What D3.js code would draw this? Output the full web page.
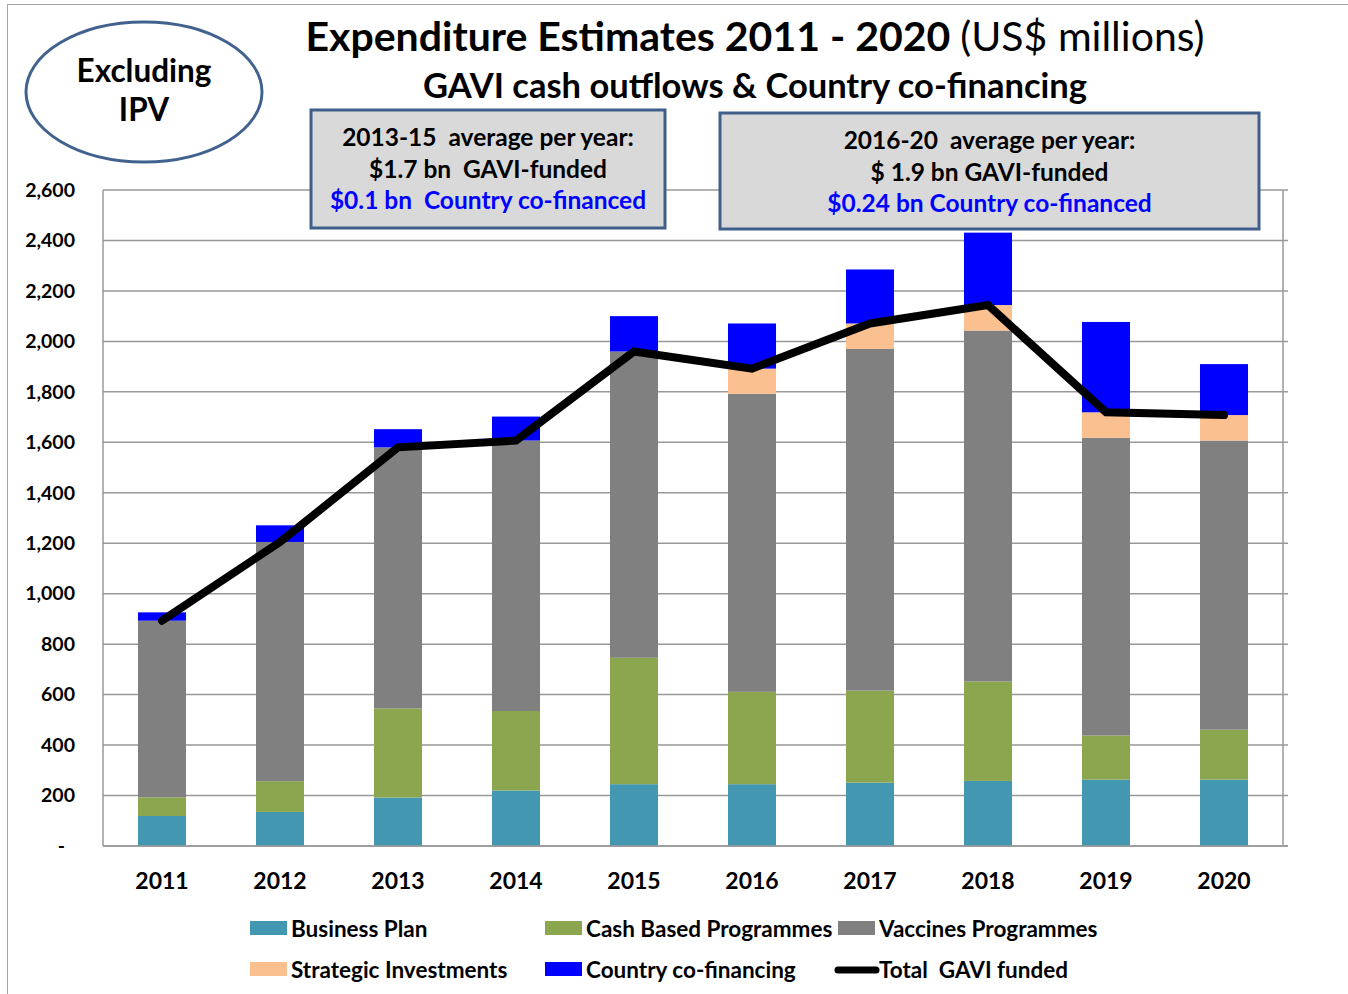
<!DOCTYPE html>
<html><head><meta charset="utf-8">
<script src="https://cdn.jsdelivr.net/npm/d3@7"></script>
<style>
html,body{margin:0;padding:0;background:#fff;}
svg{display:block;font-family:Lato,"Open Sans",sans-serif;}
</style></head>
<body>
<svg id="chart" width="1348" height="994"></svg>
<script>
const years = ["2011","2012","2013","2014","2015","2016","2017","2018","2019","2020"];
const businessPlan = [119,135,192,220,245,245,251,258,263,263];
const cashBased    = [74,122,353,315,501,366,365,394,175,198];
const vaccines     = [700,948,1035,1072,1214,1181,1354,1391,1180,1146];
const strategic    = [0,0,0,0,0,100,101,101,101,101];
const coFinancing  = [33,66,72,95,140,179,214,287,358,202];
const totalGavi    = [893,1205,1580,1607,1960,1892,2071,2144,1719,1708];
const yTicks = [0,200,400,600,800,1000,1200,1400,1600,1800,2000,2200,2400,2600];
const seriesNames = ["Business Plan","Cash Based Programmes","Vaccines Programmes","Strategic Investments","Country co-financing"];
const seriesColors = ["#4397B0","#8BA64E","#808080","#FAC090","#0000FF"];

const svg = d3.select("#chart");
const m = {left:103, right:1283, top:190, bottom:846};

// outer frame
svg.append("rect").attr("x",7.5).attr("y",4.5).attr("width",1360).attr("height",1000)
  .attr("fill","none").attr("stroke","#a6a6a6").attr("stroke-width",1);

const x = d3.scaleBand().domain(years).range([m.left,m.right]).paddingInner(0.593).paddingOuter(0.2965);
const y = d3.scaleLinear().domain([0,2600]).range([m.bottom,m.top]);

// gridlines
svg.append("g").selectAll("line").data(yTicks).join("line")
  .attr("x1",m.left).attr("x2",m.right+5)
  .attr("y1",d=>y(d)).attr("y2",d=>y(d))
  .attr("stroke","#999").attr("stroke-width",1.5);

// y axis labels
const yAxis = d3.axisLeft(y).tickValues(yTicks).tickSize(0).tickPadding(28)
  .tickFormat(d=> d===0 ? "-" : d3.format(",")(d));
const ga = svg.append("g").attr("transform",`translate(${m.left},0)`).call(yAxis);
ga.select(".domain").remove();
ga.selectAll("text").attr("font-size",19.5).attr("font-weight","bold").attr("fill","#000")
  .attr("font-family","Lato,sans-serif")
  .attr("dx", d=> d===0 ? -10 : 0);

// stacked bars
const rows = years.map((yr,i)=>({year:yr, s0:businessPlan[i], s1:cashBased[i], s2:vaccines[i], s3:strategic[i], s4:coFinancing[i]}));
const stack = d3.stack().keys(["s0","s1","s2","s3","s4"])(rows);
svg.append("g").selectAll("g").data(stack).join("g")
  .attr("fill",(d,i)=>seriesColors[i])
  .selectAll("rect").data(d=>d).join("rect")
  .attr("x",d=>x(d.data.year)).attr("width",x.bandwidth())
  .attr("y",d=>y(d[1])).attr("height",d=>Math.max(0,y(d[0])-y(d[1])));

// axes lines
svg.append("line").attr("x1",m.left).attr("x2",m.left).attr("y1",m.top).attr("y2",m.bottom)
  .attr("stroke","#999").attr("stroke-width",1.5);
svg.append("line").attr("x1",m.right).attr("x2",m.right).attr("y1",m.top).attr("y2",m.bottom)
  .attr("stroke","#999").attr("stroke-width",1.5);
svg.append("line").attr("x1",m.left).attr("x2",m.right+5).attr("y1",m.bottom).attr("y2",m.bottom)
  .attr("stroke","#999").attr("stroke-width",1.5);

// x axis labels
const xAxis = d3.axisBottom(x).tickSize(0).tickPadding(27);
const gx = svg.append("g").attr("transform",`translate(0,${m.bottom})`).call(xAxis);
gx.select(".domain").remove();
gx.selectAll("text").attr("font-size",23).attr("font-weight","bold").attr("fill","#000")
  .attr("font-family","Lato,sans-serif");

// total line
const line = d3.line().x((d,i)=>x(years[i])+x.bandwidth()/2).y(d=>y(d));
svg.append("path").datum(totalGavi).attr("d",line).attr("fill","none")
  .attr("stroke","#000").attr("stroke-width",8).attr("stroke-linecap","round").attr("stroke-linejoin","miter");

// title
const t1 = svg.append("text").attr("x",755).attr("y",51).attr("text-anchor","middle")
  .attr("font-size",41).attr("fill","#000");
t1.append("tspan").attr("font-weight","bold").text("Expenditure Estimates 2011 - 2020 ");
t1.append("tspan").attr("font-weight","normal").text("(US$ millions)");
svg.append("text").attr("x",755).attr("y",98).attr("text-anchor","middle")
  .attr("font-size",34.5).attr("font-weight","bold").attr("fill","#000")
  .text("GAVI cash outflows & Country co-financing");

// ellipse
svg.append("ellipse").attr("cx",144).attr("cy",92).attr("rx",118).attr("ry",70)
  .attr("fill","#fff").attr("stroke","#41628F").attr("stroke-width",3);
svg.append("text").attr("x",144).attr("y",82).attr("text-anchor","middle").attr("font-size",31.5)
  .attr("font-weight","bold").text("Excluding");
svg.append("text").attr("x",144).attr("y",121).attr("text-anchor","middle").attr("font-size",31.5)
  .attr("font-weight","bold").text("IPV");

// info boxes
function box(x0,y0,w,h,lines){
  svg.append("rect").attr("x",x0).attr("y",y0).attr("width",w).attr("height",h)
    .attr("fill","#D9D9D9").attr("stroke","#3F5F8A").attr("stroke-width",3);
  lines.forEach((l,i)=>{
    svg.append("text").attr("x",x0+w/2).attr("y",y0+36+i*31.5).attr("text-anchor","middle")
      .attr("font-size",24.5).attr("font-weight","bold").attr("fill",l.c).attr("xml:space","preserve").text(l.t);
  });
}
box(311,110,354,118,[{t:"2013-15  average per year:",c:"#000"},{t:"$1.7 bn  GAVI-funded",c:"#000"},{t:"$0.1 bn  Country co-financed",c:"#0000FF"}]);
box(720,113,539,116,[{t:"2016-20  average per year:",c:"#000"},{t:"$ 1.9 bn GAVI-funded",c:"#000"},{t:"$0.24 bn Country co-financed",c:"#0000FF"}]);

// legend
const legendItems = [
  {name:seriesNames[0], color:seriesColors[0], x:250, y:929},
  {name:seriesNames[1], color:seriesColors[1], x:545, y:929},
  {name:seriesNames[2], color:seriesColors[2], x:838, y:929},
  {name:seriesNames[3], color:seriesColors[3], x:250, y:970},
  {name:seriesNames[4], color:seriesColors[4], x:545, y:970},
  {name:"Total  GAVI funded", color:"#000", x:838, y:970, line:true}
];
legendItems.forEach(it=>{
  if(it.line){
    svg.append("line").attr("x1",it.x).attr("x2",it.x+38).attr("y1",it.y).attr("y2",it.y)
      .attr("stroke","#000").attr("stroke-width",7).attr("stroke-linecap","round");
  } else {
    svg.append("rect").attr("x",it.x).attr("y",it.y-8).attr("width",37).attr("height",14).attr("fill",it.color);
  }
  svg.append("text").attr("x",it.x+41).attr("y",it.y+8).attr("font-size",22.5).attr("font-weight","bold")
    .attr("xml:space","preserve").text(it.name);
});
</script>
</body></html>
